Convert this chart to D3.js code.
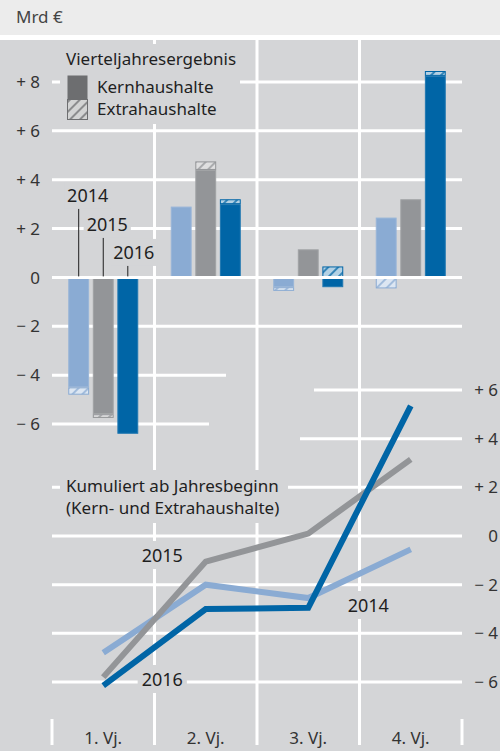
<!DOCTYPE html>
<html>
<head>
<meta charset="utf-8">
<script src="https://cdn.jsdelivr.net/npm/d3@7"></script>
<style>
body { margin: 0; background: #fff; }
text { font-family: "Noto Sans", sans-serif; fill: #1f1f1f; }
</style>
</head>
<body>
<svg id="chart"></svg>
<script>
// categories
var quarters = ["1. Vj.", "2. Vj.", "3. Vj.", "4. Vj."];
var years = ["2014", "2015", "2016"];

// quarterly result, Kernhaushalte / Extrahaushalte (Mrd €)
var kern2014 = [-4.5, 2.9, -0.4, 2.45];
var extra2014 = [-0.3, -0.05, -0.15, -0.45];
var kern2015 = [-5.6, 4.4, 1.15, 3.2];
var extra2015 = [-0.15, 0.35, 0, 0];
var kern2016 = [-6.4, 3.0, -0.4, 8.25];
var extra2016 = [0, 0.2, 0.45, 0.2];

// cumulated from start of year
var cum2014 = [-4.8, -2.0, -2.55, -0.55];
var cum2015 = [-5.8, -1.05, 0.1, 3.15];
var cum2016 = [-6.15, -3.0, -2.95, 5.35];

// tick labels
var barTicks = [-6, -4, -2, 0, 2, 4, 6, 8];
var cumTicks = [-6, -4, -2, 0, 2, 4, 6];

var kernByYear = [kern2014, kern2015, kern2016];
var extraByYear = [extra2014, extra2015, extra2016];
var cumByYear = [cum2014, cum2015, cum2016];

var w = 500;
var h = 751;
var panel = "#d4d5d7";
var colors = ["#8aabd3", "#939598", "#0065a6"];
var legendGrey = "#6d6e70";

var svg = d3.select("#chart")
    .attr("width", w)
    .attr("height", h);

// header band + panel
svg.append("rect").attr("width", w).attr("height", 35).attr("fill", "#ececec");
svg.append("text")
    .attr("x", 16).attr("y", 23)
    .style("font-size", "17px").style("fill", "#444")
    .text("Mrd €");
svg.append("rect").attr("y", 40).attr("width", w).attr("height", h - 40).attr("fill", panel);

// hatch patterns
var defs = svg.append("defs");
function makeHatch(id, col) {
    var p = defs.append("pattern")
        .attr("id", id)
        .attr("patternUnits", "userSpaceOnUse")
        .attr("width", 7).attr("height", 7)
        .attr("patternTransform", "rotate(45)");
    p.append("rect").attr("width", 7).attr("height", 7)
        .attr("fill", d3.interpolateRgb(col, "#ffffff")(0.7));
    p.append("line").attr("x1", 1).attr("y1", 0).attr("x2", 1).attr("y2", 7)
        .attr("stroke", col).attr("stroke-width", 1.4);
}
colors.forEach(function(c, i) { makeHatch("hatch" + i, c); });
makeHatch("hatchLegend", legendGrey);

// scales
var x = d3.scaleBand().domain(quarters).range([52, 462]);
var bw = x.bandwidth();
var xYear = d3.scaleBand().domain(years)
    .range([bw / 2 - 35, bw / 2 + 35])
    .paddingInner(0.15);
var yBar = d3.scaleLinear().domain([-6, 8]).range([424, 82]);
var yCum = d3.scaleLinear().domain([-6, 6]).range([682, 390]);

function fmt(v) {
    if (v > 0) return "+ " + v;
    if (v < 0) return "\u2212 " + (-v);
    return "0";
}

// vertical gridlines
var grid = svg.append("g").attr("stroke", "#fff").attr("stroke-width", 3);
quarters.slice(1).forEach(function(q) {
    grid.append("line")
        .attr("x1", x(q)).attr("x2", x(q))
        .attr("y1", 40).attr("y2", 745);
});
// end ticks of category axis
[52, 462].forEach(function(px) {
    grid.append("line").attr("x1", px).attr("x2", px).attr("y1", 719).attr("y2", 745);
});

// horizontal gridlines, quarterly chart
var barGridRight = function(v) { return v === -4 ? 226 : v === -6 ? 209 : 462; };
barTicks.forEach(function(v) {
    if (v === 0) return;
    grid.append("line")
        .attr("x1", 52).attr("x2", barGridRight(v))
        .attr("y1", yBar(v)).attr("y2", yBar(v));
});
// horizontal gridlines, cumulated chart
var cumGridLeft = function(v) { return v === 6 ? 314 : v === 4 ? 300 : 52; };
cumTicks.forEach(function(v) {
    grid.append("line")
        .attr("x1", cumGridLeft(v)).attr("x2", 462)
        .attr("y1", yCum(v)).attr("y2", yCum(v));
});

// axis labels
svg.selectAll(".ltick").data(barTicks).enter().append("text")
    .attr("class", "ltick")
    .attr("x", 40).attr("y", function(d) { return yBar(d); })
    .attr("dy", "0.36em").attr("text-anchor", "end")
    .style("font-size", "17px").style("fill", "#333")
    .text(fmt);
svg.selectAll(".rtick").data(cumTicks).enter().append("text")
    .attr("class", "rtick")
    .attr("x", 498).attr("y", function(d) { return yCum(d); })
    .attr("dy", "0.36em").attr("text-anchor", "end")
    .style("font-size", "17px").style("fill", "#333")
    .text(fmt);

// bars (diverging stack: Kern from zero, Extra on top when same sign)
var barData = [];
quarters.forEach(function(q, qi) {
    years.forEach(function(yr, yi) {
        var k = kernByYear[yi][qi];
        var e = extraByYear[yi][qi];
        var base = (e * k > 0) ? k : 0;
        barData.push({ q: q, yi: yi, from: 0, to: k, type: "kern" });
        if (e !== 0) barData.push({ q: q, yi: yi, from: base, to: base + e, type: "extra" });
    });
});

svg.selectAll(".bar").data(barData).enter().append("rect")
    .attr("class", "bar")
    .attr("x", function(d) { return x(d.q) + xYear(years[d.yi]) + 0.5; })
    .attr("width", xYear.bandwidth() - 1)
    .attr("y", function(d) { return yBar(Math.max(d.from, d.to)) + 0.5; })
    .attr("height", function(d) { return Math.max(0, Math.abs(yBar(d.from) - yBar(d.to)) - 1); })
    .attr("fill", function(d) { return d.type === "kern" ? colors[d.yi] : "url(#hatch" + d.yi + ")"; })
    .attr("stroke", function(d) {
        return d.type === "kern" ? d3.interpolateRgb(colors[d.yi], "#fff")(0.12) : colors[d.yi];
    })
    .attr("stroke-width", 1);

// zero line over the bars
svg.append("line")
    .attr("x1", 52).attr("x2", 462)
    .attr("y1", yBar(0)).attr("y2", yBar(0))
    .attr("stroke", "#fff").attr("stroke-width", 3);

// text with panel-coloured background
function boxedText(g, px, py, str, size, anchor, pad) {
    var t = g.append("text")
        .attr("x", px).attr("y", py)
        .attr("text-anchor", anchor || "start")
        .style("font-size", size + "px")
        .text(str);
    var b = t.node().getBBox();
    g.insert("rect", function() { return t.node(); })
        .attr("x", b.x - pad).attr("y", b.y - pad / 2)
        .attr("width", b.width + 2 * pad).attr("height", b.height + pad)
        .attr("fill", panel);
    return t;
}

// year labels with leader lines, quarterly chart
var labelLift = [75, 46, 18];
var labelShift = [9, 4, 6];
var ann = svg.append("g");
years.forEach(function(yr, i) {
    var cx = x(quarters[0]) + xYear(yr) + xYear.bandwidth() / 2;
    var by = yBar(0) - labelLift[i];
    ann.append("line")
        .attr("x1", cx).attr("x2", cx)
        .attr("y1", by + 4).attr("y2", yBar(0) - 1)
        .attr("stroke", "#1f1f1f").attr("stroke-width", 1);
    var g = ann.append("g");
    boxedText(g, cx + labelShift[i], by, yr, 18, "middle", 3);
});

// legend
var leg = svg.append("g");
leg.append("rect").attr("x", 60).attr("y", 44).attr("width", 180).attr("height", 80).attr("fill", panel);
leg.append("text").attr("x", 66).attr("y", 65).style("font-size", "17px").text("Vierteljahresergebnis");
leg.append("rect").attr("x", 67.5).attr("y", 75.5).attr("width", 20).attr("height", 24)
    .attr("fill", legendGrey);
leg.append("rect").attr("x", 67.5).attr("y", 99.5).attr("width", 20).attr("height", 20)
    .attr("fill", "url(#hatchLegend)").attr("stroke", legendGrey);
leg.append("text").attr("x", 97).attr("y", 93).style("font-size", "17px").text("Kernhaushalte");
leg.append("text").attr("x", 97).attr("y", 115).style("font-size", "17px").text("Extrahaushalte");

// cumulated chart title
var tg = svg.append("g");
tg.append("rect").attr("x", 60).attr("y", 470).attr("width", 228).attr("height", 53).attr("fill", panel);
tg.append("text").attr("x", 66).attr("y", 492).style("font-size", "17px").text("Kumuliert ab Jahresbeginn");
tg.append("text").attr("x", 66).attr("y", 514).style("font-size", "17px").text("(Kern- und Extrahaushalte)");

// cumulated lines
var line = d3.line()
    .x(function(d, i) { return x(quarters[i]) + bw / 2; })
    .y(function(d) { return yCum(d); });
svg.selectAll(".cum").data(cumByYear).enter().append("path")
    .attr("class", "cum")
    .attr("d", line)
    .attr("fill", "none")
    .attr("stroke", function(d, i) { return colors[i]; })
    .attr("stroke-width", 6)
    .attr("stroke-linejoin", "miter");

// line labels
var ll = svg.append("g");
boxedText(ll.append("g"), x(quarters[0]) + bw / 2 + 59, 562, "2015", 18, "middle", 4);
boxedText(ll.append("g"), x(quarters[0]) + bw / 2 + 59, 686, "2016", 18, "middle", 4);
boxedText(ll.append("g"), x(quarters[2]) + bw / 2 + 60, 612, "2014", 18, "middle", 4);

// category labels
svg.selectAll(".xlab").data(quarters).enter().append("text")
    .attr("class", "xlab")
    .attr("x", function(d) { return x(d) + bw / 2; })
    .attr("y", 744)
    .attr("text-anchor", "middle")
    .style("font-size", "17px").style("fill", "#333")
    .text(function(d) { return d; });
</script>
</body>
</html>
